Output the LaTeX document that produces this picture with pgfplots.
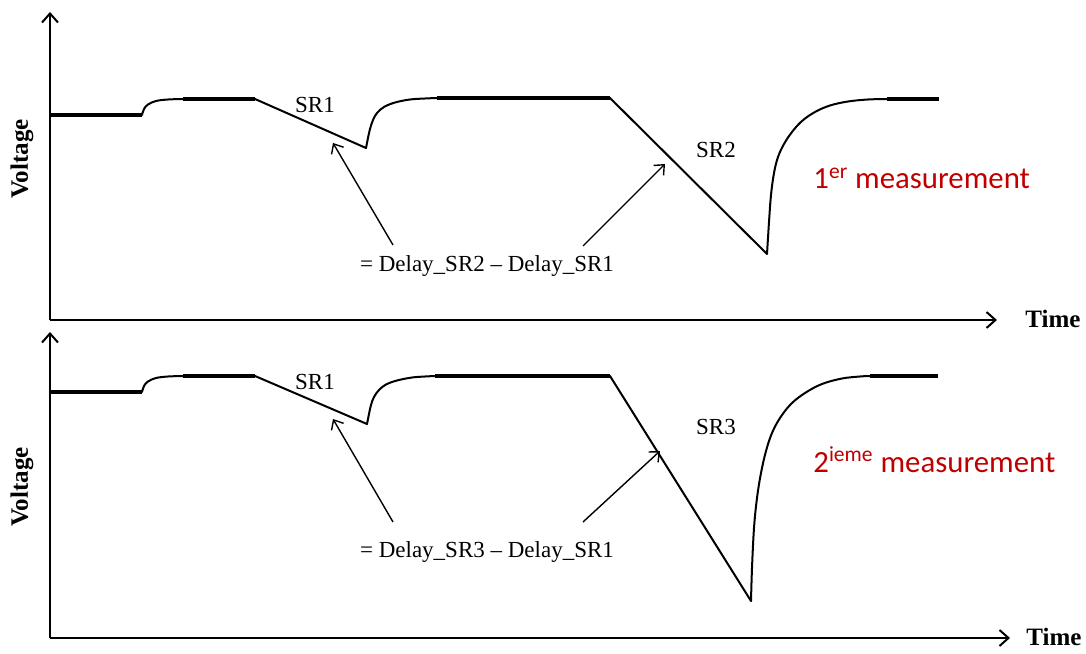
\documentclass[border=0pt]{standalone}
\usepackage{fontspec}
\setmainfont{Liberation Serif}
\newfontfamily\calibri{Carlito}
\usepackage{pgfplots}
\pgfplotsset{compat=1.18}
\usetikzlibrary{arrows.meta}
\definecolor{darkred}{HTML}{C00000}

% 1 px of the reference = 0.5pt
\pgfplotsset{
  panel/.style={
    x=0.5pt, y=0.5pt,
    axis lines=left,
    axis line style={line width=1pt, -{Straight Barb[length=4.5pt,width=8pt,line width=1pt]}},
    xtick=\empty, ytick=\empty,
    xmin=0, ymin=0,
    clip=false,
    anchor=origin,
    xlabel={Time}, ylabel={Voltage},
    label style={font=\fontsize{12.5}{14}\selectfont\bfseries},
  },
  sig/.style={black, line width=1pt, no markers, line cap=round, line join=round},
  curve/.style={sig, smooth, tension=0.6},
  flat/.style={black, line width=1.7pt, no markers},
}
\tikzset{
  note/.style={font=\fontsize{11.5}{13}\selectfont},
  meas/.style={font=\calibri\fontsize{15.4}{18}\selectfont, text=darkred, anchor=base west, inner sep=0pt},
  ptr/.style={line width=0.7pt, -{Straight Barb[length=4pt,width=7pt,line width=0.7pt]}},
}

\begin{document}
\begin{tikzpicture}

% first measurement
\begin{axis}[panel, at={(0,0)}, xmax=947, ymax=308,
  xlabel style={at={(axis cs:975,-7)}, anchor=base west, inner sep=0pt},
  ylabel style={at={(axis cs:-28,161)}, anchor=center},
]
\addplot[flat] coordinates {(0,205) (92,205)};
\addplot[curve] coordinates {(92,205) (94,211) (98,215.5) (106,219) (118,220.5) (133,221)};
\addplot[sig] coordinates {(133,221) (205,221) (316,172)};
\addplot[curve] coordinates {(316,172) (318,182) (320,191) (323,200) (327,207) (334,213) (345,217.5) (360,220.5) (375,221.5) (387,222)};
\addplot[sig] coordinates {(387,222) (560,222) (717,66)};
\addplot[curve] coordinates {(717,66) (719,98) (721,125) (724,147) (728,163) (734,176) (742,188) (752,199) (765,208) (780,214.5) (798,218.5) (818,220.5) (837,221)};
\addplot[flat] coordinates {(133,221) (205,221)};
\addplot[flat] coordinates {(387,222) (560,222)};
\addplot[flat] coordinates {(837,221) (889,221)};
\node[note] at (axis cs:265,215) {SR1};
\node[note] at (axis cs:666,170) {SR2};
\draw[ptr] (axis cs:343,75) -- (axis cs:283,177);
\draw[ptr] (axis cs:533,74) -- (axis cs:615,156);
\node[note, anchor=base] at (axis cs:437,48) {= Delay\_SR2 -- Delay\_SR1};
\node[meas] at (axis cs:763,131) {1\textsuperscript{er} measurement};
\end{axis}

% second measurement
\begin{axis}[panel, at={(0,-159pt)}, xmax=960, ymax=306,
  xlabel style={at={(axis cs:976,-7)}, anchor=base west, inner sep=0pt},
  ylabel style={at={(axis cs:-28,151)}, anchor=center},
]
\addplot[flat] coordinates {(0,246) (92,246)};
\addplot[curve] coordinates {(92,246) (94,252) (98,256.5) (106,260) (118,261.5) (133,262)};
\addplot[sig] coordinates {(133,262) (205,262) (317,214)};
\addplot[curve] coordinates {(317,214) (319,224) (321,233) (324,241) (329,248) (336,253.5) (347,257.5) (362,260.5) (375,261.5) (385,262)};
\addplot[sig] coordinates {(385,262) (560,262) (701,37)};
\addplot[curve] coordinates {(701,37) (702,70) (704,110) (707,140) (711,165) (716,187) (722,205) (730,220) (741,234) (755,245) (772,254) (792,259.5) (810,261.5) (820,262)};
\addplot[flat] coordinates {(133,262) (205,262)};
\addplot[flat] coordinates {(385,262) (560,262)};
\addplot[flat] coordinates {(820,262) (888,262)};
\node[note] at (axis cs:265,256) {SR1};
\node[note] at (axis cs:666,211) {SR3};
\draw[ptr] (axis cs:343,116) -- (axis cs:283,219);
\draw[ptr] (axis cs:533,116) -- (axis cs:610,187);
\node[note, anchor=base] at (axis cs:437,81) {= Delay\_SR3 -- Delay\_SR1};
\node[meas] at (axis cs:763,166) {2\textsuperscript{ieme} measurement};
\end{axis}

\pgfresetboundingbox
\path (-25pt,160pt) rectangle (518pt,-166.5pt);
\end{tikzpicture}
\end{document}
